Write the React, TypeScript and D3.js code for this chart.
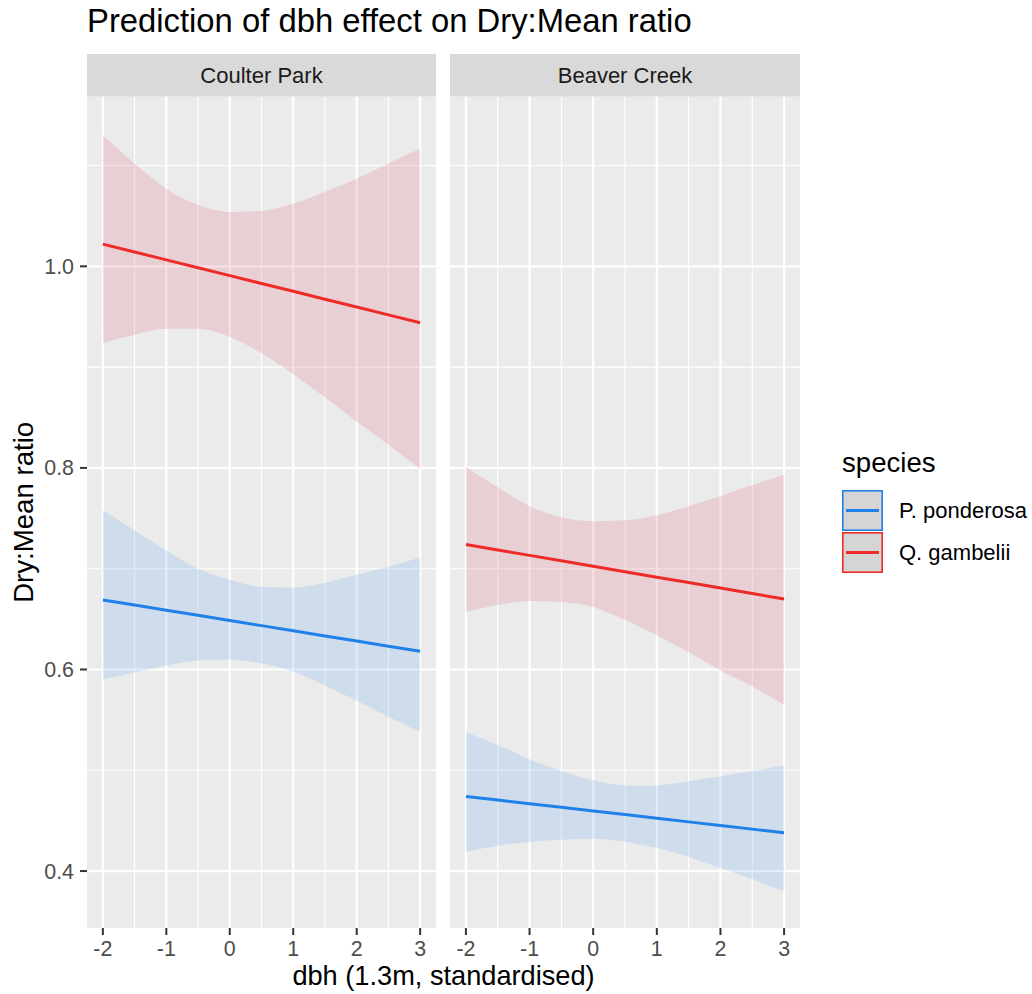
import React from "react";
import * as d3 from "d3";

const facets = ["Coulter Park", "Beaver Creek"];
const species = ["P. ponderosa", "Q. gambelii"];
const xs = [-2, -1.5, -1, -0.5, 0, 0.5, 1, 1.5, 2, 2.5, 3];

// Coulter Park
const cpPondFit = [0.669, 0.6639, 0.6588, 0.6537, 0.6486, 0.6435, 0.6384, 0.6333, 0.6282, 0.6231, 0.618];
const cpPondLo = [0.590, 0.597, 0.604, 0.609, 0.610, 0.606, 0.598, 0.584, 0.569, 0.553, 0.538];
const cpPondHi = [0.758, 0.738, 0.718, 0.700, 0.689, 0.682, 0.681, 0.686, 0.694, 0.702, 0.711];
const cpGambFit = [1.022, 1.0142, 1.0064, 0.9986, 0.9908, 0.983, 0.9752, 0.9674, 0.9596, 0.9518, 0.944];
const cpGambLo = [0.924, 0.932, 0.938, 0.938, 0.930, 0.914, 0.893, 0.870, 0.846, 0.823, 0.799];
const cpGambHi = [1.130, 1.102, 1.077, 1.061, 1.054, 1.055, 1.062, 1.074, 1.087, 1.102, 1.117];

// Beaver Creek
const bcPondFit = [0.474, 0.4704, 0.4668, 0.4632, 0.4596, 0.456, 0.4524, 0.4488, 0.4452, 0.4416, 0.438];
const bcPondLo = [0.419, 0.425, 0.429, 0.431, 0.432, 0.429, 0.423, 0.414, 0.403, 0.392, 0.380];
const bcPondHi = [0.538, 0.525, 0.511, 0.499, 0.490, 0.485, 0.485, 0.489, 0.494, 0.499, 0.505];
const bcGambFit = [0.724, 0.7186, 0.7132, 0.7078, 0.7024, 0.697, 0.6916, 0.6862, 0.6808, 0.6754, 0.670];
const bcGambLo = [0.657, 0.664, 0.668, 0.667, 0.662, 0.649, 0.634, 0.617, 0.599, 0.583, 0.565];
const bcGambHi = [0.801, 0.781, 0.762, 0.751, 0.747, 0.748, 0.753, 0.762, 0.772, 0.783, 0.793];

const xTicks = [-2, -1, 0, 1, 2, 3];
const xMinor = [-1.5, -0.5, 0.5, 1.5, 2.5];
const yTicks = [0.4, 0.6, 0.8, 1.0];
const yMinor = [0.5, 0.7, 0.9, 1.1];

const lineColors = ["#1f80ea", "#ef2b28"];
const ribbonColors = ["rgb(95,160,235)", "rgb(220,95,115)"];

const series = [
  [
    { fit: cpPondFit, lo: cpPondLo, hi: cpPondHi },
    { fit: cpGambFit, lo: cpGambLo, hi: cpGambHi },
  ],
  [
    { fit: bcPondFit, lo: bcPondLo, hi: bcPondHi },
    { fit: bcGambFit, lo: bcGambLo, hi: bcGambHi },
  ],
];

const FONT = "'Liberation Sans', Arial, Helvetica, sans-serif";

export default function App() {
  const W = 1032, H = 994;
  const top = 96.7, bottom = 928;
  const stripTop = 54;
  const panels = [
    { x0: 87, x1: 436 },
    { x0: 450, x1: 800 },
  ];
  const y = d3.scaleLinear().domain([0.3435, 1.1683]).range([bottom, top]);

  return (
    <svg width={W} height={H} style={{ display: "block", position: "absolute", left: 0, top: 0, background: "#fff" }} fontFamily={FONT}>
      <text x={87} y={32} fontSize={32.8} fill="#000">Prediction of dbh effect on Dry:Mean ratio</text>
      {panels.map((p, pi) => {
        const x = d3.scaleLinear().domain([-2.25, 3.25]).range([p.x0, p.x1]);
        return (
          <g key={pi}>
            <rect x={p.x0} y={stripTop} width={p.x1 - p.x0} height={top - stripTop} fill="#D9D9D9" />
            <text x={(p.x0 + p.x1) / 2} y={83} textAnchor="middle" fontSize={22} fill="#1A1A1A">{facets[pi]}</text>
            <rect x={p.x0} y={top} width={p.x1 - p.x0} height={bottom - top} fill="#EBEBEB" />
            {yMinor.map((v) => (
              <line key={"ym" + v} x1={p.x0} x2={p.x1} y1={y(v)} y2={y(v)} stroke="#fff" strokeWidth={1.1} />
            ))}
            {xMinor.map((v) => (
              <line key={"xm" + v} x1={x(v)} x2={x(v)} y1={top} y2={bottom} stroke="#fff" strokeWidth={1.1} />
            ))}
            {yTicks.map((v) => (
              <line key={"yM" + v} x1={p.x0} x2={p.x1} y1={y(v)} y2={y(v)} stroke="#fff" strokeWidth={2.2} />
            ))}
            {xTicks.map((v) => (
              <line key={"xM" + v} x1={x(v)} x2={x(v)} y1={top} y2={bottom} stroke="#fff" strokeWidth={2.2} />
            ))}
            {series[pi].map((s, si) => {
              const a = d3.area<number>()
                .x((_, i) => x(xs[i]))
                .y0((_, i) => y(s.lo[i]))
                .y1((_, i) => y(s.hi[i]))
                .curve(d3.curveMonotoneX);
              return <path key={"r" + si} d={a(xs) || ""} fill={ribbonColors[si]} fillOpacity={0.2} />;
            })}
            {series[pi].map((s, si) => {
              const l = d3.line<number>()
                .x((_, i) => x(xs[i]))
                .y((_, i) => y(s.fit[i]));
              return <path key={"l" + si} d={l(xs) || ""} fill="none" stroke={lineColors[si]} strokeWidth={3} />;
            })}
            {xTicks.map((v) => (
              <g key={"xt" + v}>
                <line x1={x(v)} x2={x(v)} y1={bottom} y2={bottom + 7} stroke="#333" strokeWidth={2} />
                <text x={x(v)} y={956} textAnchor="middle" fontSize={21.4} fill="#4D4D4D">{v}</text>
              </g>
            ))}
          </g>
        );
      })}
      {yTicks.map((v) => (
        <g key={"yt" + v}>
          <line x1={80} x2={87} y1={y(v)} y2={y(v)} stroke="#333" strokeWidth={2} />
          <text x={74} y={y(v)} dy="0.35em" textAnchor="end" fontSize={21.4} fill="#4D4D4D">{v.toFixed(1)}</text>
        </g>
      ))}
      <text x={(87 + 800) / 2} y={985} textAnchor="middle" fontSize={27.2} fill="#000">dbh (1.3m, standardised)</text>
      <text transform={`translate(33,${(top + bottom) / 2}) rotate(-90)`} textAnchor="middle" fontSize={27.6} fill="#000">Dry:Mean ratio</text>
      <text x={842} y={472} fontSize={27.6} fill="#000">species</text>
      {species.map((sp, i) => {
        const ky = 490 + i * 42;
        return (
          <g key={sp}>
            <rect x={842} y={ky} width={41} height={41} fill="#D5D5D5" />
            <rect x={842.8} y={ky + 0.8} width={39.4} height={39.4} fill="none" stroke={lineColors[i]} strokeWidth={1.6} />
            <line x1={846} x2={879} y1={ky + 20.5} y2={ky + 20.5} stroke={lineColors[i]} strokeWidth={3} />
            <text x={899} y={ky + 20.5} dy="0.35em" fontSize={22} fill="#000">{sp}</text>
          </g>
        );
      })}
    </svg>
  );
}
